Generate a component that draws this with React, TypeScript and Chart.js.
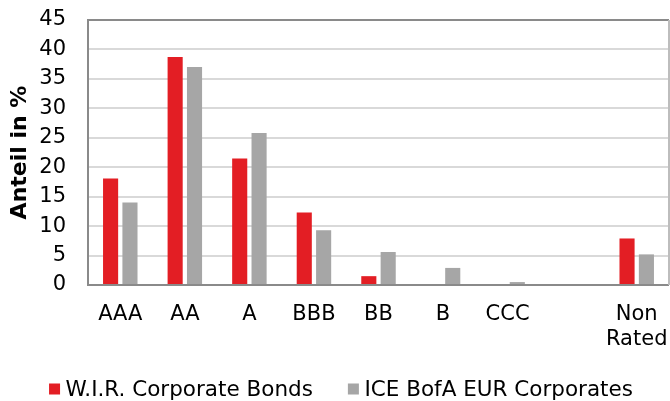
import React, { useEffect, useRef } from "react";
import { Chart, registerables } from "chart.js";

Chart.register(...registerables);

const categories: (string | string[])[] = ["AAA", "AA", "A", "BBB", "BB", "B", "CCC", "", ["Non", "Rated"]];
const wirValues: (number | null)[] = [18.1, 38.7, 21.5, 12.3, 1.5, 0, 0, null, 7.9];
const iceValues: (number | null)[] = [14.0, 37.0, 25.8, 9.3, 5.6, 2.9, 0.5, null, 5.2];
const seriesNames = ["W.I.R. Corporate Bonds", "ICE BofA EUR Corporates"];
const yTicks = [0, 5, 10, 15, 20, 25, 30, 35, 40, 45];

const RED = "#E31E24";
const GRAY = "#A6A6A6";
const FONT = "'DejaVu Sans', Verdana, sans-serif";

const plotBorder = {
  id: "plotBorder",
  afterDatasetsDraw(chart: any) {
    const { ctx, chartArea } = chart;
    const { left, right, top, bottom } = chartArea;
    ctx.save();
    ctx.lineWidth = 2;
    ctx.strokeStyle = "#8A8A8A";
    ctx.beginPath();
    ctx.moveTo(right, top);
    ctx.lineTo(left, top);
    ctx.lineTo(left, bottom);
    ctx.lineTo(right, bottom);
    ctx.stroke();
    ctx.strokeStyle = "#BDBDBD";
    ctx.beginPath();
    ctx.moveTo(right, top);
    ctx.lineTo(right, bottom);
    ctx.stroke();
    ctx.restore();
  },
};

const customLegend = {
  id: "customLegend",
  afterDraw(chart: any) {
    const { ctx } = chart;
    const box = 11;
    const gap = 5.5;
    const itemGap = 35;
    const centerX = 341;
    const midY = 390;
    ctx.save();
    ctx.font = `21.5px ${FONT}`;
    ctx.textBaseline = "middle";
    ctx.textAlign = "left";
    const items = chart.data.datasets.map((d: any) => ({
      label: d.label as string,
      color: d.backgroundColor as string,
      w: ctx.measureText(d.label).width,
    }));
    let total = 0;
    items.forEach((it: any, i: number) => {
      total += box + gap + it.w + (i < items.length - 1 ? itemGap : 0);
    });
    let x = centerX - total / 2;
    items.forEach((it: any) => {
      ctx.fillStyle = it.color;
      ctx.fillRect(x, midY - box / 2 - 1, box, box);
      ctx.fillStyle = "#000";
      ctx.fillText(it.label, x + box + gap, midY);
      x += box + gap + it.w + itemGap;
    });
    ctx.restore();
  },
};

export default function App() {
  const ref = useRef<HTMLCanvasElement>(null);
  useEffect(() => {
    if (!ref.current) return;
    const chart = new Chart(ref.current, {
      type: "bar",
      data: {
        labels: categories,
        datasets: [
          { label: seriesNames[0], data: wirValues, backgroundColor: RED, borderWidth: 0 },
          { label: seriesNames[1], data: iceValues, backgroundColor: GRAY, borderWidth: 0 },
        ],
      },
      plugins: [plotBorder, customLegend],
      options: {
        responsive: false,
        animation: false,
        datasets: { bar: { categoryPercentage: 0.6, barPercentage: 0.78 } },
        layout: { padding: { top: 20, left: 0, right: 1, bottom: 0 } },
        plugins: {
          tooltip: { enabled: false },
          legend: { display: false },
        },
        scales: {
          x: {
            grid: { display: false, drawTicks: false },
            border: { display: false },
            ticks: { font: { family: FONT, size: 21 }, color: "#000", padding: 17, maxRotation: 0, autoSkip: false },
            afterFit: (axis: any) => {
              axis.height = 116;
              axis.paddingLeft = 0;
              axis.paddingRight = 0;
            },
          },
          y: {
            min: 0,
            max: 45,
            afterBuildTicks: (axis: any) => {
              axis.ticks = yTicks.map((v) => ({ value: v }));
            },
            grid: {
              drawTicks: false,
              color: (c: any) => (c.tick && (c.tick.value === 0 || c.tick.value === 45) ? "rgba(0,0,0,0)" : "#D9D9D9"),
              lineWidth: 2,
            },
            border: { display: false },
            ticks: { font: { family: FONT, size: 21 }, color: "#000", padding: 22, autoSkip: false },
            title: {
              display: true,
              text: "Anteil in %",
              font: { family: FONT, size: 22, weight: "bold" },
              color: "#000",
              padding: { top: 7, bottom: 0 },
            },
            afterFit: (axis: any) => {
              axis.width = 88;
              axis.paddingTop = 0;
              axis.paddingBottom = 0;
            },
          },
        },
      },
    });
    return () => chart.destroy();
  }, []);
  return (
    <div style={{ position: "absolute", left: 0, top: 0, width: 670, height: 401, background: "#fff" }}>
      <canvas ref={ref} width={670} height={401} />
    </div>
  );
}
